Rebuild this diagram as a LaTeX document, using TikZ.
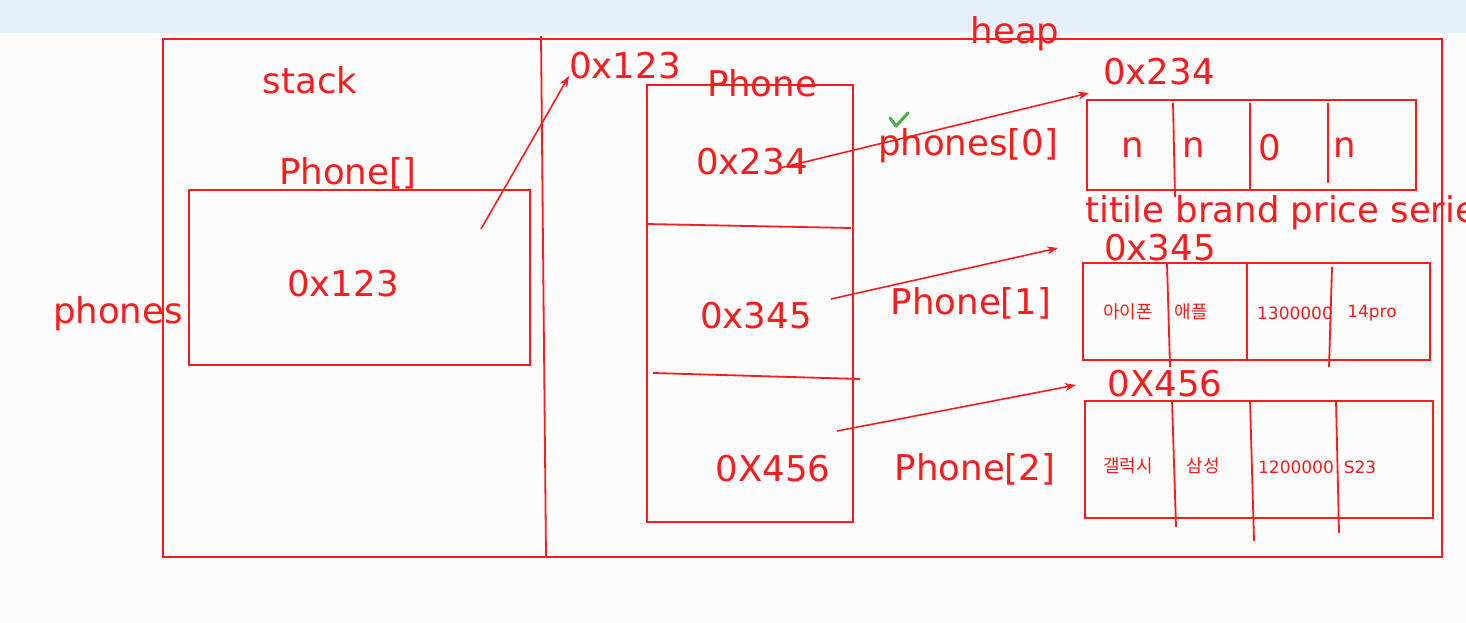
\documentclass[tikz,border=0pt]{standalone}
\usepackage{fontspec}
\setmainfont{DejaVu Sans}
\newfontfamily\kr{Noto Sans CJK KR}
\usetikzlibrary{arrows.meta}
\definecolor{rd}{RGB}{250,28,28}
\definecolor{bandblue}{RGB}{229,240,251}
\definecolor{chk}{RGB}{70,175,70}
\tikzset{
  ln/.style={draw=rd,line width=1.8pt},
  arr/.style={draw=rd,line width=1.6pt,-{Stealth[length=11pt,width=8pt]}},
  big/.style={text=rd,font=\fontsize{35.5}{40}\selectfont,inner sep=0pt},
  sm/.style={text=rd,font=\fontsize{17}{20}\selectfont,inner sep=0pt},
  krs/.style={text=rd,font=\kr\fontsize{18}{20}\selectfont,inner sep=0pt},
}
\begin{document}
\begin{tikzpicture}[x=1pt,y=-1pt]
\useasboundingbox (0,0) rectangle (1466,623);
\clip (0,0) rectangle (1466,623);
\fill[white!99!black] (0,0) rectangle (1466,623);
\fill[bandblue] (0,0) rectangle (1466,33);
% outer frame and divider
\draw[ln] (163,39) rectangle (1442,557);
\coordinate (dvt) at (541,36);
\coordinate (dvb) at (546,557);
\draw[ln] (dvt) -- (dvb);
\node[big] (heap) at (1015,34) {heap};
\node[big] (stack) at (310,80) {stack};
% stack
\node[big] (phonesarr) at (348,173) {Phone[]};
\draw[ln] (189,190) rectangle (530,365);
\node[big] (ref) at (343,284) {0x123};
\node[big] (phones) at (118,314) {phones};
\node[big] (addr) at (625,66) {0x123};
\coordinate (a0) at (481,229);
\coordinate (a1) at (569,76);
\draw[arr] (a0) -- (a1);
% Phone array
\node[big] (phone) at (762,83) {Phone};
\draw[ln] (647,85) rectangle (853,522);
\coordinate (s1a) at (646,224); \coordinate (s1b) at (851,228);
\coordinate (s2a) at (653,373); \coordinate (s2b) at (860,379);
\draw[ln] (s1a) -- (s1b);
\draw[ln] (s2a) -- (s2b);
\node[big] (e0) at (752,162) {0x234};
\node[big] (e1) at (756,316) {0x345};
\node[big] (e2) at (773,469) {0X456};
\coordinate (p0s) at (780,168); \coordinate (p0e) at (1089,93);
\coordinate (p1s) at (831,299); \coordinate (p1e) at (1058,248);
\coordinate (p2s) at (837,431); \coordinate (p2e) at (1076,385);
\node[big] (l0) at (968,146) {phones[0]};
\node[big] (l1) at (971,303) {Phone[1]};
\node[big] (l2) at (975,469) {Phone[2]};
\draw[chk,line width=3pt,line cap=round,line join=round] (890,118) -- (896,126) -- (908,113);
\draw[arr] (p0s) -- (p0e);
\draw[arr] (p1s) -- (p1e);
\draw[arr] (p2s) -- (p2e);
% object 0
\node[big] (h0) at (1159,72) {0x234};
\draw[ln] (1087,100) rectangle (1416,190);
\draw[ln] (1173,103) -- (1175,197);
\draw[ln] (1250,103) -- (1250,190);
\draw[ln] (1328,103) -- (1328,183);
\node[big] (n1) at (1133,148) {n};
\node[big] (n2) at (1194,148) {n};
\node[big] (n3) at (1270,148) {0};
\node[big] (n4) at (1345,148) {n};
\node[big,anchor=west] (fields) at (1085,213) {titile brand price series};
% object 1
\node[big] (h1) at (1160,248) {0x345};
\draw[ln] (1083,263) rectangle (1430,360);
\draw[ln] (1167,263) -- (1170,367);
\draw[ln] (1247,263) -- (1247,360);
\draw[ln] (1332,267) -- (1329,367);
\node[krs] (t1) at (1128,312) {아이폰};
\node[krs] (b1) at (1191,312) {애플};
\node[sm] (pr1) at (1295,313) {1300000};
\node[sm] (sr1) at (1372,313) {14pro};
% object 2
\node[big] (h2) at (1165,384) {0X456};
\draw[ln] (1085,401) rectangle (1433,518);
\draw[ln] (1172,400) -- (1176,527);
\draw[ln] (1250,400) -- (1254,541);
\draw[ln] (1336,401) -- (1339,533);
\node[krs] (t2) at (1128,466) {갤럭시};
\node[krs] (b2) at (1203,466) {삼성};
\node[sm] (pr2) at (1296,467) {1200000};
\node[sm] (sr2) at (1360,467) {S23};
\end{tikzpicture}
\end{document}
